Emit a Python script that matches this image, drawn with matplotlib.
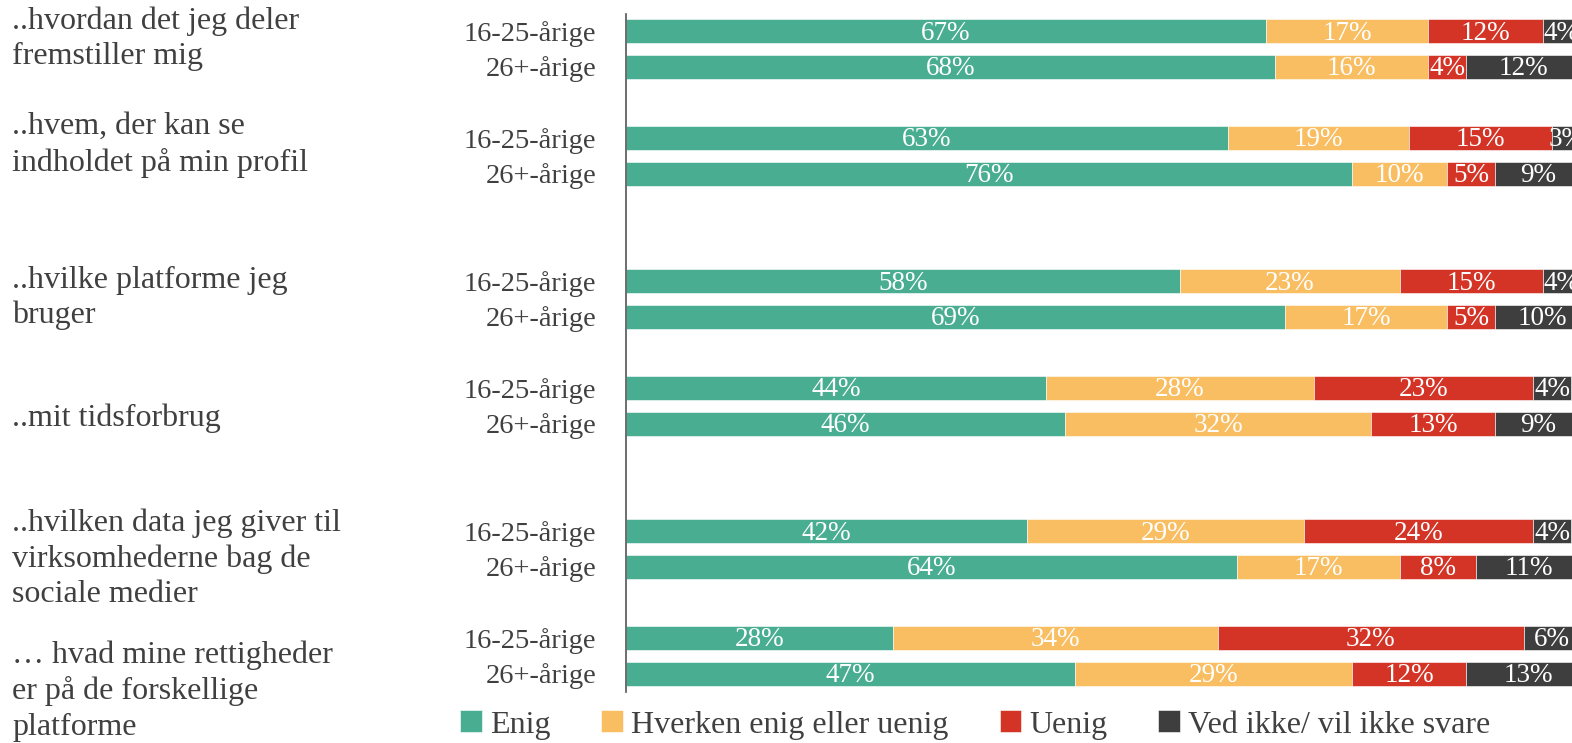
import matplotlib
matplotlib.use("Agg")
import matplotlib.pyplot as plt
import numpy as np

# ---------------- data ----------------
questions = [
    "..hvordan det jeg deler\nfremstiller mig",
    "..hvem, der kan se\nindholdet på min profil",
    "..hvilke platforme jeg\nbruger",
    "..mit tidsforbrug",
    "..hvilken data jeg giver til\nvirksomhederne bag de\nsociale medier",
    "… hvad mine rettigheder\ner på de forskellige\nplatforme",
]
age_groups = ["16-25-årige", "26+-årige"]
series_names = ["Enig", "Hverken enig eller uenig", "Uenig", "Ved ikke/ vil ikke svare"]

enig_young = [67, 63, 58, 44, 42, 28]
enig_old = [68, 76, 69, 46, 64, 47]
hverken_young = [17, 19, 23, 28, 29, 34]
hverken_old = [16, 10, 17, 32, 17, 29]
uenig_young = [12, 15, 15, 23, 24, 32]
uenig_old = [4, 5, 5, 13, 8, 12]
vedikke_young = [4, 3, 4, 4, 4, 6]
vedikke_old = [12, 9, 10, 9, 11, 13]

# ---------------- style / layout ----------------
colors = ["#49AE91", "#F9BE62", "#D33426", "#3E3E3E"]
text_color = "#404040"
FONT = ["Liberation Serif", "DejaVu Serif"]
plt.rcParams["font.family"] = FONT

W, H, DPI = 1572, 743, 100
fig = plt.figure(figsize=(W / DPI, H / DPI), dpi=DPI)
ax_left = 626 / W
ax_width = 955 / W
ax = fig.add_axes([ax_left, 0, ax_width, 1])
ax.set_xlim(0, 100)
ax.set_ylim(H, 0)

group_top = [31, 138, 281, 388, 531, 638]   # pixel centre of first bar in each group
pitch = 35.5
bar_h = 24
label_centres = [39, 145, 298, 418, 559, 691]

young_y = np.array(group_top, dtype=float)
old_y = young_y + pitch

young = [enig_young, hverken_young, uenig_young, vedikke_young]
old = [enig_old, hverken_old, uenig_old, vedikke_old]

handles = []
for ys, data in [(young_y, young), (old_y, old)]:
    left = np.zeros(len(ys))
    for k, vals in enumerate(data):
        vals = np.array(vals, dtype=float)
        bars = ax.barh(ys, vals, left=left, height=bar_h, color=colors[k],
                       edgecolor="white", linewidth=0.4, label=series_names[k])
        if len(handles) < 4:
            handles.append(bars)
        for y, l, v in zip(ys, left, vals):
            ax.text(l + v / 2, y + 2, f"{int(v)}%", ha="center", va="center",
                    color="white", fontsize=19.5, clip_on=False)
        left = left + vals

# y tick labels (age groups)
ticks = np.sort(np.concatenate([young_y, old_y]))
ax.set_yticks(ticks)
ax.set_yticklabels([age_groups[i % 2] for i in range(len(ticks))],
                   fontsize=20.5, color=text_color)
ax.tick_params(axis="y", length=0, pad=21.5)
ax.tick_params(axis="x", bottom=False, labelbottom=False)

for s in ["top", "right", "bottom"]:
    ax.spines[s].set_visible(False)
ax.spines["left"].set_color("#555555")
ax.spines["left"].set_linewidth(1.2)
ax.spines["left"].set_bounds(692, 14)

# question labels
for q, yc in zip(questions, label_centres):
    fig.text(12 / W, 1 - yc / H, q, ha="left", va="center", fontsize=23,
             color=text_color, linespacing=1.28)

# legend
leg = fig.legend(handles, series_names, loc="center left",
                 bbox_to_anchor=(460 / W, 1 - 725 / H), ncol=4, frameon=False,
                 fontsize=23, handlelength=0.68, handleheight=0.68,
                 handletextpad=0.25, columnspacing=1.6, borderaxespad=0,
                 borderpad=0)
for t in leg.get_texts():
    t.set_color(text_color)

fig.savefig("out.png", dpi=DPI)
